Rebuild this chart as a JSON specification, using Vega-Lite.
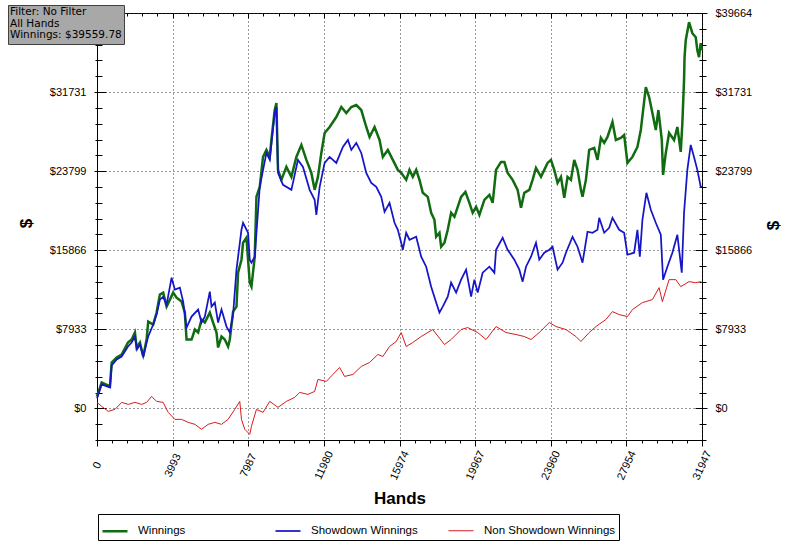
{
  "$schema": "https://vega.github.io/schema/vega-lite/v6.json",
  "description": "Poker winnings graph: Winnings, Showdown and Non Showdown Winnings by hands played",
  "width": 605,
  "height": 427,
  "autosize": "none",
  "padding": {"left": 97, "top": 13, "right": 98, "bottom": 106},
  "background": "white",
  "config": {
    "font": "Liberation Sans",
    "view": {"stroke": "black", "strokeWidth": 1}
  },
  "resolve": {
    "scale": {"x": "shared", "y": "shared"},
    "axis": {"x": "independent", "y": "independent"}
  },
  "layer": [
    {
      "mark": {"type": "rule", "color": "black", "strokeWidth": 1},
      "encoding": {
        "y": {
          "datum": 0,
          "type": "quantitative",
          "scale": {"domain": [-3173.12, 39664], "nice": false, "zero": false},
          "axis": {"orient": "left", "values": [0, 7933, 15866, 23799, 31731, 39664], "offset": -9, "ticks": true, "tickSize": 12, "tickColor": "black", "tickWidth": 1, "labels": true, "labelOpacity": 0, "labelFontSize": 1, "labelPadding": 0, "domain": false, "grid": false, "title": null}
        },
        "strokeDash": {
          "datum": "info",
          "scale": {"range": [[1, 0]]},
          "legend": {
            "title": ["Filter: No Filter", "All Hands", "Winnings: $39559.78"],
            "orient": "none",
            "legendX": -89,
            "legendY": -8,
            "fillColor": "#a8a8a8",
            "strokeColor": "#404040",
            "padding": 2,
            "titleFont": "DejaVu Sans",
            "titleFontSize": 10.5,
            "titleFontWeight": "normal",
            "titleColor": "black",
            "titleLineHeight": 11.5,
            "titlePadding": 0,
            "titleLimit": 300,
            "labelExpr": "''",
            "labelFontSize": 1,
            "symbolOpacity": 0,
            "symbolSize": 1,
            "rowPadding": 0
          }
        }
      }
    },
    {
      "data": {
        "values": [
          {"Series": "Winnings", "Hands": 0, "Amount": 1200}, {"Series": "Winnings", "Hands": 248, "Amount": 2603}, {"Series": "Winnings", "Hands": 685, "Amount": 2202}, {"Series": "Winnings", "Hands": 775, "Amount": 4605}, {"Series": "Winnings", "Hands": 1039, "Amount": 5105}, {"Series": "Winnings", "Hands": 1302, "Amount": 5405}, {"Series": "Winnings", "Hands": 1634, "Amount": 6607}, {"Series": "Winnings", "Hands": 1829, "Amount": 6907}, {"Series": "Winnings", "Hands": 2003, "Amount": 7608}, {"Series": "Winnings", "Hands": 2093, "Amount": 6106}, {"Series": "Winnings", "Hands": 2267, "Amount": 6607}, {"Series": "Winnings", "Hands": 2441, "Amount": 5205}, {"Series": "Winnings", "Hands": 2620, "Amount": 6907}, {"Series": "Winnings", "Hands": 2705, "Amount": 8709}, {"Series": "Winnings", "Hands": 2968, "Amount": 8408}, {"Series": "Winnings", "Hands": 3147, "Amount": 9610}, {"Series": "Winnings", "Hands": 3321, "Amount": 11411}, {"Series": "Winnings", "Hands": 3495, "Amount": 11612}, {"Series": "Winnings", "Hands": 3675, "Amount": 10210}, {"Series": "Winnings", "Hands": 3849, "Amount": 10911}, {"Series": "Winnings", "Hands": 4023, "Amount": 11612}, {"Series": "Winnings", "Hands": 4202, "Amount": 11111}, {"Series": "Winnings", "Hands": 4465, "Amount": 10711}, {"Series": "Winnings", "Hands": 4639, "Amount": 9610}, {"Series": "Winnings", "Hands": 4729, "Amount": 6907}, {"Series": "Winnings", "Hands": 4993, "Amount": 6907}, {"Series": "Winnings", "Hands": 5167, "Amount": 7908}, {"Series": "Winnings", "Hands": 5341, "Amount": 7608}, {"Series": "Winnings", "Hands": 5520, "Amount": 8909}, {"Series": "Winnings", "Hands": 5694, "Amount": 8609}, {"Series": "Winnings", "Hands": 5957, "Amount": 9610}, {"Series": "Winnings", "Hands": 6131, "Amount": 8609}, {"Series": "Winnings", "Hands": 6311, "Amount": 7608}, {"Series": "Winnings", "Hands": 6395, "Amount": 6106}, {"Series": "Winnings", "Hands": 6574, "Amount": 7207}, {"Series": "Winnings", "Hands": 6748, "Amount": 6907}, {"Series": "Winnings", "Hands": 6922, "Amount": 6206}, {"Series": "Winnings", "Hands": 7012, "Amount": 6907}, {"Series": "Winnings", "Hands": 7186, "Amount": 9710}, {"Series": "Winnings", "Hands": 7365, "Amount": 10210}, {"Series": "Winnings", "Hands": 7449, "Amount": 13614}, {"Series": "Winnings", "Hands": 7629, "Amount": 14915}, {"Series": "Winnings", "Hands": 7713, "Amount": 16617}, {"Series": "Winnings", "Hands": 7892, "Amount": 17117}, {"Series": "Winnings", "Hands": 8066, "Amount": 12613}, {"Series": "Winnings", "Hands": 8156, "Amount": 12212}, {"Series": "Winnings", "Hands": 8330, "Amount": 15215}, {"Series": "Winnings", "Hands": 8420, "Amount": 21221}, {"Series": "Winnings", "Hands": 8594, "Amount": 22222}, {"Series": "Winnings", "Hands": 8768, "Amount": 25225}, {"Series": "Winnings", "Hands": 8947, "Amount": 25926}, {"Series": "Winnings", "Hands": 9121, "Amount": 25225}, {"Series": "Winnings", "Hands": 9210, "Amount": 26927}, {"Series": "Winnings", "Hands": 9384, "Amount": 29930}, {"Series": "Winnings", "Hands": 9474, "Amount": 30631}, {"Series": "Winnings", "Hands": 9558, "Amount": 23924}, {"Series": "Winnings", "Hands": 9737, "Amount": 22923}, {"Series": "Winnings", "Hands": 10000, "Amount": 24224}, {"Series": "Winnings", "Hands": 10265, "Amount": 23223}, {"Series": "Winnings", "Hands": 10528, "Amount": 25225}, {"Series": "Winnings", "Hands": 10792, "Amount": 26426}, {"Series": "Winnings", "Hands": 11056, "Amount": 24925}, {"Series": "Winnings", "Hands": 11319, "Amount": 23624}, {"Series": "Winnings", "Hands": 11493, "Amount": 21922}, {"Series": "Winnings", "Hands": 11667, "Amount": 23223}, {"Series": "Winnings", "Hands": 11846, "Amount": 25626}, {"Series": "Winnings", "Hands": 12020, "Amount": 27628}, {"Series": "Winnings", "Hands": 12284, "Amount": 28228}, {"Series": "Winnings", "Hands": 12637, "Amount": 29229}, {"Series": "Winnings", "Hands": 12900, "Amount": 30230}, {"Series": "Winnings", "Hands": 13164, "Amount": 29630}, {"Series": "Winnings", "Hands": 13428, "Amount": 30230}, {"Series": "Winnings", "Hands": 13691, "Amount": 30430}, {"Series": "Winnings", "Hands": 13955, "Amount": 29930}, {"Series": "Winnings", "Hands": 14219, "Amount": 28228}, {"Series": "Winnings", "Hands": 14393, "Amount": 27227}, {"Series": "Winnings", "Hands": 14656, "Amount": 28228}, {"Series": "Winnings", "Hands": 14920, "Amount": 26927}, {"Series": "Winnings", "Hands": 15094, "Amount": 25225}, {"Series": "Winnings", "Hands": 15357, "Amount": 25926}, {"Series": "Winnings", "Hands": 15621, "Amount": 24925}, {"Series": "Winnings", "Hands": 15885, "Amount": 23924}, {"Series": "Winnings", "Hands": 16064, "Amount": 23624}, {"Series": "Winnings", "Hands": 16327, "Amount": 22923}, {"Series": "Winnings", "Hands": 16501, "Amount": 23924}, {"Series": "Winnings", "Hands": 16675, "Amount": 23223}, {"Series": "Winnings", "Hands": 16855, "Amount": 23924}, {"Series": "Winnings", "Hands": 17029, "Amount": 22923}, {"Series": "Winnings", "Hands": 17203, "Amount": 21622}, {"Series": "Winnings", "Hands": 17466, "Amount": 21221}, {"Series": "Winnings", "Hands": 17645, "Amount": 19620}, {"Series": "Winnings", "Hands": 17819, "Amount": 18919}, {"Series": "Winnings", "Hands": 17909, "Amount": 17217}, {"Series": "Winnings", "Hands": 18083, "Amount": 17618}, {"Series": "Winnings", "Hands": 18173, "Amount": 16216}, {"Series": "Winnings", "Hands": 18347, "Amount": 16617}, {"Series": "Winnings", "Hands": 18521, "Amount": 17918}, {"Series": "Winnings", "Hands": 18700, "Amount": 19620}, {"Series": "Winnings", "Hands": 18874, "Amount": 19219}, {"Series": "Winnings", "Hands": 19048, "Amount": 20220}, {"Series": "Winnings", "Hands": 19227, "Amount": 21221}, {"Series": "Winnings", "Hands": 19454, "Amount": 21722}, {"Series": "Winnings", "Hands": 19665, "Amount": 20621}, {"Series": "Winnings", "Hands": 19839, "Amount": 19620}, {"Series": "Winnings", "Hands": 20018, "Amount": 20220}, {"Series": "Winnings", "Hands": 20192, "Amount": 19419}, {"Series": "Winnings", "Hands": 20455, "Amount": 20921}, {"Series": "Winnings", "Hands": 20719, "Amount": 21421}, {"Series": "Winnings", "Hands": 20893, "Amount": 20621}, {"Series": "Winnings", "Hands": 21072, "Amount": 23924}, {"Series": "Winnings", "Hands": 21336, "Amount": 24725}, {"Series": "Winnings", "Hands": 21510, "Amount": 24725}, {"Series": "Winnings", "Hands": 21684, "Amount": 23624}, {"Series": "Winnings", "Hands": 21947, "Amount": 22923}, {"Series": "Winnings", "Hands": 22211, "Amount": 21922}, {"Series": "Winnings", "Hands": 22390, "Amount": 20120}, {"Series": "Winnings", "Hands": 22564, "Amount": 21622}, {"Series": "Winnings", "Hands": 22828, "Amount": 21922}, {"Series": "Winnings", "Hands": 23002, "Amount": 22923}, {"Series": "Winnings", "Hands": 23181, "Amount": 24124}, {"Series": "Winnings", "Hands": 23445, "Amount": 23223}, {"Series": "Winnings", "Hands": 23619, "Amount": 23924}, {"Series": "Winnings", "Hands": 23793, "Amount": 24625}, {"Series": "Winnings", "Hands": 23972, "Amount": 24925}, {"Series": "Winnings", "Hands": 24146, "Amount": 23924}, {"Series": "Winnings", "Hands": 24320, "Amount": 22623}, {"Series": "Winnings", "Hands": 24499, "Amount": 23223}, {"Series": "Winnings", "Hands": 24673, "Amount": 21121}, {"Series": "Winnings", "Hands": 24847, "Amount": 23223}, {"Series": "Winnings", "Hands": 25026, "Amount": 22923}, {"Series": "Winnings", "Hands": 25200, "Amount": 24925}, {"Series": "Winnings", "Hands": 25374, "Amount": 23924}, {"Series": "Winnings", "Hands": 25553, "Amount": 21922}, {"Series": "Winnings", "Hands": 25638, "Amount": 21221}, {"Series": "Winnings", "Hands": 25817, "Amount": 22923}, {"Series": "Winnings", "Hands": 25991, "Amount": 25926}, {"Series": "Winnings", "Hands": 26255, "Amount": 26126}, {"Series": "Winnings", "Hands": 26429, "Amount": 24925}, {"Series": "Winnings", "Hands": 26608, "Amount": 27127}, {"Series": "Winnings", "Hands": 26782, "Amount": 26627}, {"Series": "Winnings", "Hands": 26956, "Amount": 27227}, {"Series": "Winnings", "Hands": 27219, "Amount": 28729}, {"Series": "Winnings", "Hands": 27399, "Amount": 26927}, {"Series": "Winnings", "Hands": 27662, "Amount": 27127}, {"Series": "Winnings", "Hands": 27836, "Amount": 27427}, {"Series": "Winnings", "Hands": 28010, "Amount": 24625}, {"Series": "Winnings", "Hands": 28274, "Amount": 25225}, {"Series": "Winnings", "Hands": 28537, "Amount": 26226}, {"Series": "Winnings", "Hands": 28716, "Amount": 27928}, {"Series": "Winnings", "Hands": 28980, "Amount": 32232}, {"Series": "Winnings", "Hands": 29154, "Amount": 31231}, {"Series": "Winnings", "Hands": 29328, "Amount": 29630}, {"Series": "Winnings", "Hands": 29507, "Amount": 27928}, {"Series": "Winnings", "Hands": 29644, "Amount": 29930}, {"Series": "Winnings", "Hands": 29824, "Amount": 26927}, {"Series": "Winnings", "Hands": 29892, "Amount": 23423}, {"Series": "Winnings", "Hands": 30035, "Amount": 25626}, {"Series": "Winnings", "Hands": 30209, "Amount": 27628}, {"Series": "Winnings", "Hands": 30472, "Amount": 26927}, {"Series": "Winnings", "Hands": 30646, "Amount": 28228}, {"Series": "Winnings", "Hands": 30825, "Amount": 25726}, {"Series": "Winnings", "Hands": 30910, "Amount": 28629}, {"Series": "Winnings", "Hands": 30999, "Amount": 32933}, {"Series": "Winnings", "Hands": 31026, "Amount": 35235}, {"Series": "Winnings", "Hands": 31089, "Amount": 36937}, {"Series": "Winnings", "Hands": 31263, "Amount": 38739}, {"Series": "Winnings", "Hands": 31437, "Amount": 37638}, {"Series": "Winnings", "Hands": 31616, "Amount": 37237}, {"Series": "Winnings", "Hands": 31701, "Amount": 35936}, {"Series": "Winnings", "Hands": 31790, "Amount": 35235}, {"Series": "Winnings", "Hands": 31880, "Amount": 36637}, {"Series": "Winnings", "Hands": 31947, "Amount": 35936},
          {"Series": "Showdown Winnings", "Hands": 0, "Amount": 1000}, {"Series": "Showdown Winnings", "Hands": 248, "Amount": 2402}, {"Series": "Showdown Winnings", "Hands": 685, "Amount": 2102}, {"Series": "Showdown Winnings", "Hands": 775, "Amount": 4304}, {"Series": "Showdown Winnings", "Hands": 1039, "Amount": 4905}, {"Series": "Showdown Winnings", "Hands": 1302, "Amount": 5205}, {"Series": "Showdown Winnings", "Hands": 1634, "Amount": 6206}, {"Series": "Showdown Winnings", "Hands": 1829, "Amount": 6607}, {"Series": "Showdown Winnings", "Hands": 2003, "Amount": 7207}, {"Series": "Showdown Winnings", "Hands": 2109, "Amount": 5906}, {"Series": "Showdown Winnings", "Hands": 2267, "Amount": 6406}, {"Series": "Showdown Winnings", "Hands": 2441, "Amount": 5205}, {"Series": "Showdown Winnings", "Hands": 2620, "Amount": 6607}, {"Series": "Showdown Winnings", "Hands": 2705, "Amount": 7207}, {"Series": "Showdown Winnings", "Hands": 2968, "Amount": 8408}, {"Series": "Showdown Winnings", "Hands": 3147, "Amount": 9409}, {"Series": "Showdown Winnings", "Hands": 3321, "Amount": 10911}, {"Series": "Showdown Winnings", "Hands": 3495, "Amount": 11211}, {"Series": "Showdown Winnings", "Hands": 3675, "Amount": 10410}, {"Series": "Showdown Winnings", "Hands": 3938, "Amount": 13113}, {"Series": "Showdown Winnings", "Hands": 4112, "Amount": 11912}, {"Series": "Showdown Winnings", "Hands": 4376, "Amount": 12112}, {"Series": "Showdown Winnings", "Hands": 4550, "Amount": 10711}, {"Series": "Showdown Winnings", "Hands": 4729, "Amount": 8108}, {"Series": "Showdown Winnings", "Hands": 4993, "Amount": 9209}, {"Series": "Showdown Winnings", "Hands": 5341, "Amount": 9910}, {"Series": "Showdown Winnings", "Hands": 5520, "Amount": 8609}, {"Series": "Showdown Winnings", "Hands": 5694, "Amount": 9209}, {"Series": "Showdown Winnings", "Hands": 5957, "Amount": 11712}, {"Series": "Showdown Winnings", "Hands": 6047, "Amount": 10210}, {"Series": "Showdown Winnings", "Hands": 6221, "Amount": 10611}, {"Series": "Showdown Winnings", "Hands": 6395, "Amount": 8609}, {"Series": "Showdown Winnings", "Hands": 6574, "Amount": 9910}, {"Series": "Showdown Winnings", "Hands": 6838, "Amount": 8208}, {"Series": "Showdown Winnings", "Hands": 7012, "Amount": 7608}, {"Series": "Showdown Winnings", "Hands": 7186, "Amount": 9409}, {"Series": "Showdown Winnings", "Hands": 7365, "Amount": 13914}, {"Series": "Showdown Winnings", "Hands": 7629, "Amount": 17918}, {"Series": "Showdown Winnings", "Hands": 7713, "Amount": 18619}, {"Series": "Showdown Winnings", "Hands": 7977, "Amount": 17618}, {"Series": "Showdown Winnings", "Hands": 8066, "Amount": 14915}, {"Series": "Showdown Winnings", "Hands": 8156, "Amount": 14615}, {"Series": "Showdown Winnings", "Hands": 8330, "Amount": 15215}, {"Series": "Showdown Winnings", "Hands": 8594, "Amount": 22222}, {"Series": "Showdown Winnings", "Hands": 8947, "Amount": 25626}, {"Series": "Showdown Winnings", "Hands": 9121, "Amount": 24925}, {"Series": "Showdown Winnings", "Hands": 9384, "Amount": 29630}, {"Series": "Showdown Winnings", "Hands": 9474, "Amount": 30230}, {"Series": "Showdown Winnings", "Hands": 9558, "Amount": 23624}, {"Series": "Showdown Winnings", "Hands": 9822, "Amount": 22422}, {"Series": "Showdown Winnings", "Hands": 10265, "Amount": 21922}, {"Series": "Showdown Winnings", "Hands": 10612, "Amount": 24925}, {"Series": "Showdown Winnings", "Hands": 10876, "Amount": 24224}, {"Series": "Showdown Winnings", "Hands": 11229, "Amount": 21922}, {"Series": "Showdown Winnings", "Hands": 11493, "Amount": 20921}, {"Series": "Showdown Winnings", "Hands": 11583, "Amount": 19419}, {"Series": "Showdown Winnings", "Hands": 11757, "Amount": 22222}, {"Series": "Showdown Winnings", "Hands": 12020, "Amount": 24625}, {"Series": "Showdown Winnings", "Hands": 12284, "Amount": 25225}, {"Series": "Showdown Winnings", "Hands": 12637, "Amount": 24625}, {"Series": "Showdown Winnings", "Hands": 12985, "Amount": 26226}, {"Series": "Showdown Winnings", "Hands": 13249, "Amount": 26927}, {"Series": "Showdown Winnings", "Hands": 13428, "Amount": 25926}, {"Series": "Showdown Winnings", "Hands": 13691, "Amount": 26627}, {"Series": "Showdown Winnings", "Hands": 13955, "Amount": 25626}, {"Series": "Showdown Winnings", "Hands": 14219, "Amount": 23624}, {"Series": "Showdown Winnings", "Hands": 14482, "Amount": 22623}, {"Series": "Showdown Winnings", "Hands": 14746, "Amount": 22222}, {"Series": "Showdown Winnings", "Hands": 15010, "Amount": 21221}, {"Series": "Showdown Winnings", "Hands": 15184, "Amount": 19720}, {"Series": "Showdown Winnings", "Hands": 15447, "Amount": 20621}, {"Series": "Showdown Winnings", "Hands": 15711, "Amount": 18619}, {"Series": "Showdown Winnings", "Hands": 15885, "Amount": 17918}, {"Series": "Showdown Winnings", "Hands": 16064, "Amount": 16617}, {"Series": "Showdown Winnings", "Hands": 16148, "Amount": 15916}, {"Series": "Showdown Winnings", "Hands": 16327, "Amount": 17618}, {"Series": "Showdown Winnings", "Hands": 16501, "Amount": 16917}, {"Series": "Showdown Winnings", "Hands": 16855, "Amount": 17217}, {"Series": "Showdown Winnings", "Hands": 17118, "Amount": 15215}, {"Series": "Showdown Winnings", "Hands": 17382, "Amount": 14214}, {"Series": "Showdown Winnings", "Hands": 17645, "Amount": 12212}, {"Series": "Showdown Winnings", "Hands": 17909, "Amount": 10611}, {"Series": "Showdown Winnings", "Hands": 18083, "Amount": 9610}, {"Series": "Showdown Winnings", "Hands": 18257, "Amount": 10210}, {"Series": "Showdown Winnings", "Hands": 18521, "Amount": 11211}, {"Series": "Showdown Winnings", "Hands": 18700, "Amount": 12613}, {"Series": "Showdown Winnings", "Hands": 18963, "Amount": 11612}, {"Series": "Showdown Winnings", "Hands": 19227, "Amount": 12913}, {"Series": "Showdown Winnings", "Hands": 19491, "Amount": 13914}, {"Series": "Showdown Winnings", "Hands": 19754, "Amount": 11211}, {"Series": "Showdown Winnings", "Hands": 19928, "Amount": 12913}, {"Series": "Showdown Winnings", "Hands": 20102, "Amount": 11612}, {"Series": "Showdown Winnings", "Hands": 20366, "Amount": 13614}, {"Series": "Showdown Winnings", "Hands": 20719, "Amount": 14214}, {"Series": "Showdown Winnings", "Hands": 20983, "Amount": 13614}, {"Series": "Showdown Winnings", "Hands": 21072, "Amount": 15916}, {"Series": "Showdown Winnings", "Hands": 21420, "Amount": 17117}, {"Series": "Showdown Winnings", "Hands": 21684, "Amount": 15916}, {"Series": "Showdown Winnings", "Hands": 22037, "Amount": 14915}, {"Series": "Showdown Winnings", "Hands": 22301, "Amount": 13914}, {"Series": "Showdown Winnings", "Hands": 22475, "Amount": 12713}, {"Series": "Showdown Winnings", "Hands": 22654, "Amount": 14214}, {"Series": "Showdown Winnings", "Hands": 22918, "Amount": 15215}, {"Series": "Showdown Winnings", "Hands": 23181, "Amount": 16617}, {"Series": "Showdown Winnings", "Hands": 23355, "Amount": 14915}, {"Series": "Showdown Winnings", "Hands": 23619, "Amount": 15616}, {"Series": "Showdown Winnings", "Hands": 23883, "Amount": 15916}, {"Series": "Showdown Winnings", "Hands": 24056, "Amount": 16216}, {"Series": "Showdown Winnings", "Hands": 24320, "Amount": 13914}, {"Series": "Showdown Winnings", "Hands": 24584, "Amount": 14615}, {"Series": "Showdown Winnings", "Hands": 24763, "Amount": 15616}, {"Series": "Showdown Winnings", "Hands": 25111, "Amount": 17217}, {"Series": "Showdown Winnings", "Hands": 25374, "Amount": 16216}, {"Series": "Showdown Winnings", "Hands": 25638, "Amount": 14615}, {"Series": "Showdown Winnings", "Hands": 25902, "Amount": 17718}, {"Series": "Showdown Winnings", "Hands": 26166, "Amount": 17618}, {"Series": "Showdown Winnings", "Hands": 26429, "Amount": 17918}, {"Series": "Showdown Winnings", "Hands": 26519, "Amount": 19119}, {"Series": "Showdown Winnings", "Hands": 26782, "Amount": 17618}, {"Series": "Showdown Winnings", "Hands": 27046, "Amount": 18118}, {"Series": "Showdown Winnings", "Hands": 27219, "Amount": 19119}, {"Series": "Showdown Winnings", "Hands": 27573, "Amount": 17918}, {"Series": "Showdown Winnings", "Hands": 27836, "Amount": 17618}, {"Series": "Showdown Winnings", "Hands": 28010, "Amount": 15415}, {"Series": "Showdown Winnings", "Hands": 28363, "Amount": 15616}, {"Series": "Showdown Winnings", "Hands": 28537, "Amount": 17918}, {"Series": "Showdown Winnings", "Hands": 28664, "Amount": 15215}, {"Series": "Showdown Winnings", "Hands": 28801, "Amount": 18919}, {"Series": "Showdown Winnings", "Hands": 29012, "Amount": 21622}, {"Series": "Showdown Winnings", "Hands": 29244, "Amount": 19920}, {"Series": "Showdown Winnings", "Hands": 29507, "Amount": 18619}, {"Series": "Showdown Winnings", "Hands": 29771, "Amount": 17417}, {"Series": "Showdown Winnings", "Hands": 29892, "Amount": 12913}, {"Series": "Showdown Winnings", "Hands": 30119, "Amount": 14214}, {"Series": "Showdown Winnings", "Hands": 30383, "Amount": 15616}, {"Series": "Showdown Winnings", "Hands": 30646, "Amount": 17417}, {"Series": "Showdown Winnings", "Hands": 30878, "Amount": 13614}, {"Series": "Showdown Winnings", "Hands": 30999, "Amount": 19620}, {"Series": "Showdown Winnings", "Hands": 31173, "Amount": 23924}, {"Series": "Showdown Winnings", "Hands": 31352, "Amount": 26426}, {"Series": "Showdown Winnings", "Hands": 31526, "Amount": 25225}, {"Series": "Showdown Winnings", "Hands": 31701, "Amount": 23924}, {"Series": "Showdown Winnings", "Hands": 31880, "Amount": 22222}, {"Series": "Showdown Winnings", "Hands": 31947, "Amount": 22222},
          {"Series": "Non Showdown Winnings", "Hands": 0, "Amount": 600}, {"Series": "Non Showdown Winnings", "Hands": 248, "Amount": 200}, {"Series": "Non Showdown Winnings", "Hands": 596, "Amount": -300}, {"Series": "Non Showdown Winnings", "Hands": 949, "Amount": -100}, {"Series": "Non Showdown Winnings", "Hands": 1302, "Amount": 601}, {"Series": "Non Showdown Winnings", "Hands": 1650, "Amount": 400}, {"Series": "Non Showdown Winnings", "Hands": 2003, "Amount": 601}, {"Series": "Non Showdown Winnings", "Hands": 2357, "Amount": 400}, {"Series": "Non Showdown Winnings", "Hands": 2620, "Amount": 601}, {"Series": "Non Showdown Winnings", "Hands": 2884, "Amount": 1201}, {"Series": "Non Showdown Winnings", "Hands": 3147, "Amount": 701}, {"Series": "Non Showdown Winnings", "Hands": 3495, "Amount": 601}, {"Series": "Non Showdown Winnings", "Hands": 3759, "Amount": -400}, {"Series": "Non Showdown Winnings", "Hands": 4112, "Amount": -1101}, {"Series": "Non Showdown Winnings", "Hands": 4465, "Amount": -1101}, {"Series": "Non Showdown Winnings", "Hands": 4813, "Amount": -1401}, {"Series": "Non Showdown Winnings", "Hands": 5167, "Amount": -1602}, {"Series": "Non Showdown Winnings", "Hands": 5520, "Amount": -2102}, {"Series": "Non Showdown Winnings", "Hands": 5868, "Amount": -1602}, {"Series": "Non Showdown Winnings", "Hands": 6221, "Amount": -1401}, {"Series": "Non Showdown Winnings", "Hands": 6574, "Amount": -1602}, {"Series": "Non Showdown Winnings", "Hands": 6922, "Amount": -1101}, {"Series": "Non Showdown Winnings", "Hands": 7275, "Amount": -100}, {"Series": "Non Showdown Winnings", "Hands": 7539, "Amount": 701}, {"Series": "Non Showdown Winnings", "Hands": 7629, "Amount": -1101}, {"Series": "Non Showdown Winnings", "Hands": 7803, "Amount": -2102}, {"Series": "Non Showdown Winnings", "Hands": 8066, "Amount": -2603}, {"Series": "Non Showdown Winnings", "Hands": 8156, "Amount": -1802}, {"Series": "Non Showdown Winnings", "Hands": 8420, "Amount": -100}, {"Series": "Non Showdown Winnings", "Hands": 8768, "Amount": -400}, {"Series": "Non Showdown Winnings", "Hands": 9121, "Amount": 701}, {"Series": "Non Showdown Winnings", "Hands": 9558, "Amount": 100}, {"Series": "Non Showdown Winnings", "Hands": 10001, "Amount": 701}, {"Series": "Non Showdown Winnings", "Hands": 10439, "Amount": 1101}, {"Series": "Non Showdown Winnings", "Hands": 10702, "Amount": 1602}, {"Series": "Non Showdown Winnings", "Hands": 11140, "Amount": 1401}, {"Series": "Non Showdown Winnings", "Hands": 11493, "Amount": 1702}, {"Series": "Non Showdown Winnings", "Hands": 11667, "Amount": 2903}, {"Series": "Non Showdown Winnings", "Hands": 12110, "Amount": 2703}, {"Series": "Non Showdown Winnings", "Hands": 12458, "Amount": 3403}, {"Series": "Non Showdown Winnings", "Hands": 12811, "Amount": 4104}, {"Series": "Non Showdown Winnings", "Hands": 13075, "Amount": 3203}, {"Series": "Non Showdown Winnings", "Hands": 13512, "Amount": 3403}, {"Series": "Non Showdown Winnings", "Hands": 13955, "Amount": 4204}, {"Series": "Non Showdown Winnings", "Hands": 14393, "Amount": 4605}, {"Series": "Non Showdown Winnings", "Hands": 14830, "Amount": 5405}, {"Series": "Non Showdown Winnings", "Hands": 15094, "Amount": 5205}, {"Series": "Non Showdown Winnings", "Hands": 15447, "Amount": 6206}, {"Series": "Non Showdown Winnings", "Hands": 15800, "Amount": 6707}, {"Series": "Non Showdown Winnings", "Hands": 16064, "Amount": 7608}, {"Series": "Non Showdown Winnings", "Hands": 16327, "Amount": 6206}, {"Series": "Non Showdown Winnings", "Hands": 16675, "Amount": 6607}, {"Series": "Non Showdown Winnings", "Hands": 17118, "Amount": 7207}, {"Series": "Non Showdown Winnings", "Hands": 17730, "Amount": 7908}, {"Series": "Non Showdown Winnings", "Hands": 18347, "Amount": 6406}, {"Series": "Non Showdown Winnings", "Hands": 18700, "Amount": 6907}, {"Series": "Non Showdown Winnings", "Hands": 19227, "Amount": 7908}, {"Series": "Non Showdown Winnings", "Hands": 19575, "Amount": 8108}, {"Series": "Non Showdown Winnings", "Hands": 20102, "Amount": 7608}, {"Series": "Non Showdown Winnings", "Hands": 20545, "Amount": 6907}, {"Series": "Non Showdown Winnings", "Hands": 21072, "Amount": 8208}, {"Series": "Non Showdown Winnings", "Hands": 21599, "Amount": 7608}, {"Series": "Non Showdown Winnings", "Hands": 22127, "Amount": 7407}, {"Series": "Non Showdown Winnings", "Hands": 22564, "Amount": 7207}, {"Series": "Non Showdown Winnings", "Hands": 22918, "Amount": 6907}, {"Series": "Non Showdown Winnings", "Hands": 23355, "Amount": 7608}, {"Series": "Non Showdown Winnings", "Hands": 23883, "Amount": 8609}, {"Series": "Non Showdown Winnings", "Hands": 24236, "Amount": 8208}, {"Series": "Non Showdown Winnings", "Hands": 24763, "Amount": 7908}, {"Series": "Non Showdown Winnings", "Hands": 25290, "Amount": 7207}, {"Series": "Non Showdown Winnings", "Hands": 25553, "Amount": 6707}, {"Series": "Non Showdown Winnings", "Hands": 25991, "Amount": 7608}, {"Series": "Non Showdown Winnings", "Hands": 26344, "Amount": 8208}, {"Series": "Non Showdown Winnings", "Hands": 26871, "Amount": 8909}, {"Series": "Non Showdown Winnings", "Hands": 27219, "Amount": 9710}, {"Series": "Non Showdown Winnings", "Hands": 27573, "Amount": 9409}, {"Series": "Non Showdown Winnings", "Hands": 28010, "Amount": 9209}, {"Series": "Non Showdown Winnings", "Hands": 28274, "Amount": 9910}, {"Series": "Non Showdown Winnings", "Hands": 28801, "Amount": 10611}, {"Series": "Non Showdown Winnings", "Hands": 29328, "Amount": 10911}, {"Series": "Non Showdown Winnings", "Hands": 29680, "Amount": 12112}, {"Series": "Non Showdown Winnings", "Hands": 29855, "Amount": 10711}, {"Series": "Non Showdown Winnings", "Hands": 30209, "Amount": 12913}, {"Series": "Non Showdown Winnings", "Hands": 30562, "Amount": 12913}, {"Series": "Non Showdown Winnings", "Hands": 30825, "Amount": 12212}, {"Series": "Non Showdown Winnings", "Hands": 31263, "Amount": 12713}, {"Series": "Non Showdown Winnings", "Hands": 31616, "Amount": 12613}, {"Series": "Non Showdown Winnings", "Hands": 31880, "Amount": 12713}, {"Series": "Non Showdown Winnings", "Hands": 31947, "Amount": 12613}
        ]
      },
      "mark": {"type": "line", "interpolate": "linear"},
      "encoding": {
        "x": {
          "field": "Hands",
          "type": "quantitative",
          "scale": {"domain": [0, 31947], "nice": false, "zero": false},
          "axis": {
            "orient": "bottom",
            "values": [0, 3993, 7987, 11980, 15974, 19967, 23960, 27954, 31947],
            "format": "d",
            "grid": true, "gridDash": [1, 3], "gridColor": "#333333", "gridOpacity": 1,
            "domain": true, "domainColor": "black",
            "ticks": true, "tickSize": 6, "tickColor": "black",
            "labelAngle": -65, "labelAlign": "center", "labelBaseline": "middle", "labelPadding": 19,
            "labelFont": "Liberation Sans", "labelFontSize": 11, "labelColor": "black",
            "labelOverlap": false, "labelFlush": false, "labelBound": false,
            "title": "Hands", "titleFont": "Liberation Sans", "titleFontSize": 17, "titleFontWeight": "bold", "titleColor": "black", "titlePadding": 10
          }
        },
        "y": {
          "field": "Amount",
          "type": "quantitative",
          "scale": {"domain": [-3173.12, 39664], "nice": false, "zero": false},
          "axis": {
            "orient": "left",
            "values": [0, 7933, 15866, 23799, 31731, 39664],
            "format": "$d",
            "grid": true, "gridDash": [1, 3], "gridColor": "#333333", "gridOpacity": 1,
            "domain": true, "domainColor": "black",
            "ticks": false, "tickSize": 0,
            "labelPadding": 11, "labelFont": "Liberation Sans", "labelFontSize": 11, "labelColor": "black",
            "labelOverlap": false, "labelFlush": false, "labelBound": false,
            "title": "$", "titleFont": "Liberation Sans", "titleFontSize": 17, "titleFontWeight": "bold", "titleColor": "black", "titleAngle": -90,
            "titleX": -71, "titleY": 210, "titleAlign": "center", "titleBaseline": "middle"
          }
        },
        "color": {
          "field": "Series",
          "type": "nominal",
          "scale": {"domain": ["Winnings", "Showdown Winnings", "Non Showdown Winnings"], "range": ["#116b11", "#1616c6", "#d61c1c"]},
          "legend": {
            "title": null,
            "orient": "none",
            "legendX": 1,
            "legendY": 501,
            "direction": "horizontal",
            "columns": 3,
            "gridAlign": "all",
            "columnPadding": 2,
            "symbolType": "stroke",
            "symbolSize": 625,
            "symbolStrokeWidth": 1.5,
            "labelFont": "Liberation Sans",
            "labelFontSize": 11.5,
            "labelColor": "black",
            "labelOffset": 9,
            "labelLimit": 300,
            "strokeColor": "black",
            "fillColor": "white",
            "padding": 3
          }
        },
        "strokeWidth": {
          "field": "Series",
          "type": "nominal",
          "scale": {"domain": ["Winnings", "Showdown Winnings", "Non Showdown Winnings"], "range": [2.5, 1, 1]},
          "legend": null
        }
      }
    },
    {
      "mark": {"type": "point", "opacity": 0},
      "encoding": {
        "x": {
          "datum": 0, "type": "quantitative",
          "scale": {"domain": [0, 31947], "nice": false, "zero": false},
          "axis": {"orient": "bottom", "values": [0, 798.7, 1597.4, 2396, 3194.7, 3993.4, 4792.1, 5590.7, 6389.4, 7188.1, 7986.8, 8785.4, 9584.1, 10382.8, 11181.5, 11980.1, 12778.8, 13577.5, 14376.2, 15174.8, 15973.5, 16772.2, 17570.9, 18369.5, 19168.2, 19966.9, 20765.6, 21564.2, 22362.9, 23161.6, 23960.3, 24758.9, 25557.6, 26356.3, 27155, 27953.6, 28752.3, 29551, 30349.7, 31148.3, 31947], "ticks": true, "tickSize": 3, "tickColor": "black", "tickWidth": 1, "labels": true, "labelOpacity": 0, "labelFontSize": 1, "labelPadding": 0, "domain": false, "grid": false, "title": null}
        },
        "y": {
          "datum": 0, "type": "quantitative",
          "scale": {"domain": [-3173.12, 39664], "nice": false, "zero": false},
          "axis": {"orient": "left", "values": [-3173.12, -1586.56, 0, 1586.56, 3173.12, 4759.68, 6346.24, 7932.8, 9519.36, 11105.92, 12692.48, 14279.04, 15865.6, 17452.16, 19038.72, 20625.28, 22211.84, 23798.4, 25384.96, 26971.52, 28558.08, 30144.64, 31731.2, 33317.76, 34904.32, 36490.88, 38077.44, 39664], "offset": -5, "ticks": true, "tickSize": 7, "tickColor": "black", "tickWidth": 1, "labels": true, "labelOpacity": 0, "labelFontSize": 1, "labelPadding": 0, "domain": false, "grid": false, "title": null}
        }
      }
    },
    {
      "mark": {"type": "point", "opacity": 0},
      "encoding": {
        "x": {
          "datum": 0, "type": "quantitative",
          "scale": {"domain": [0, 31947], "nice": false, "zero": false},
          "axis": {"orient": "top", "values": [0, 3993, 7987, 11980, 15974, 19967, 23960, 27954, 31947], "offset": -5, "ticks": true, "tickSize": 5, "tickColor": "black", "tickWidth": 1, "labels": true, "labelOpacity": 0, "labelFontSize": 1, "labelPadding": 0, "domain": false, "grid": false, "title": null}
        },
        "y": {
          "datum": 0, "type": "quantitative",
          "scale": {"domain": [-3173.12, 39664], "nice": false, "zero": false},
          "axis": {
            "orient": "right",
            "values": [0, 7933, 15866, 23799, 31731, 39664],
            "format": "$d",
            "ticks": false, "tickSize": 0, "domain": false, "grid": false,
            "labelPadding": 13, "labelFont": "Liberation Sans", "labelFontSize": 11, "labelColor": "black",
            "labelOverlap": false, "labelFlush": false, "labelBound": false,
            "title": "$", "titleFont": "Liberation Sans", "titleFontSize": 17, "titleFontWeight": "bold", "titleColor": "black", "titleAngle": -90,
            "titleX": 71, "titleY": 212, "titleAlign": "center", "titleBaseline": "middle"
          }
        }
      }
    },
    {
      "mark": {"type": "point", "opacity": 0},
      "encoding": {
        "x": {
          "datum": 0, "type": "quantitative",
          "scale": {"domain": [0, 31947], "nice": false, "zero": false},
          "axis": {"orient": "top", "values": [0, 798.7, 1597.4, 2396, 3194.7, 3993.4, 4792.1, 5590.7, 6389.4, 7188.1, 7986.8, 8785.4, 9584.1, 10382.8, 11181.5, 11980.1, 12778.8, 13577.5, 14376.2, 15174.8, 15973.5, 16772.2, 17570.9, 18369.5, 19168.2, 19966.9, 20765.6, 21564.2, 22362.9, 23161.6, 23960.3, 24758.9, 25557.6, 26356.3, 27155, 27953.6, 28752.3, 29551, 30349.7, 31148.3, 31947], "offset": -3, "ticks": true, "tickSize": 3, "tickColor": "black", "tickWidth": 1, "labels": true, "labelOpacity": 0, "labelFontSize": 1, "labelPadding": 0, "domain": false, "grid": false, "title": null}
        },
        "y": {
          "datum": 0, "type": "quantitative",
          "scale": {"domain": [-3173.12, 39664], "nice": false, "zero": false},
          "axis": {"orient": "right", "values": [0, 7933, 15866, 23799, 31731, 39664], "offset": -7, "ticks": true, "tickSize": 12, "tickColor": "black", "tickWidth": 1, "labels": true, "labelOpacity": 0, "labelFontSize": 1, "labelPadding": 0, "domain": false, "grid": false, "title": null}
        }
      }
    },
    {
      "mark": {"type": "point", "opacity": 0},
      "encoding": {
        "y": {
          "datum": 0, "type": "quantitative",
          "scale": {"domain": [-3173.12, 39664], "nice": false, "zero": false},
          "axis": {"orient": "right", "values": [-3173.12, -1586.56, 0, 1586.56, 3173.12, 4759.68, 6346.24, 7932.8, 9519.36, 11105.92, 12692.48, 14279.04, 15865.6, 17452.16, 19038.72, 20625.28, 22211.84, 23798.4, 25384.96, 26971.52, 28558.08, 30144.64, 31731.2, 33317.76, 34904.32, 36490.88, 38077.44, 39664], "offset": -3, "ticks": true, "tickSize": 7, "tickColor": "black", "tickWidth": 1, "labels": true, "labelOpacity": 0, "labelFontSize": 1, "labelPadding": 0, "domain": false, "grid": false, "title": null}
        }
      }
    }
  ]
}
